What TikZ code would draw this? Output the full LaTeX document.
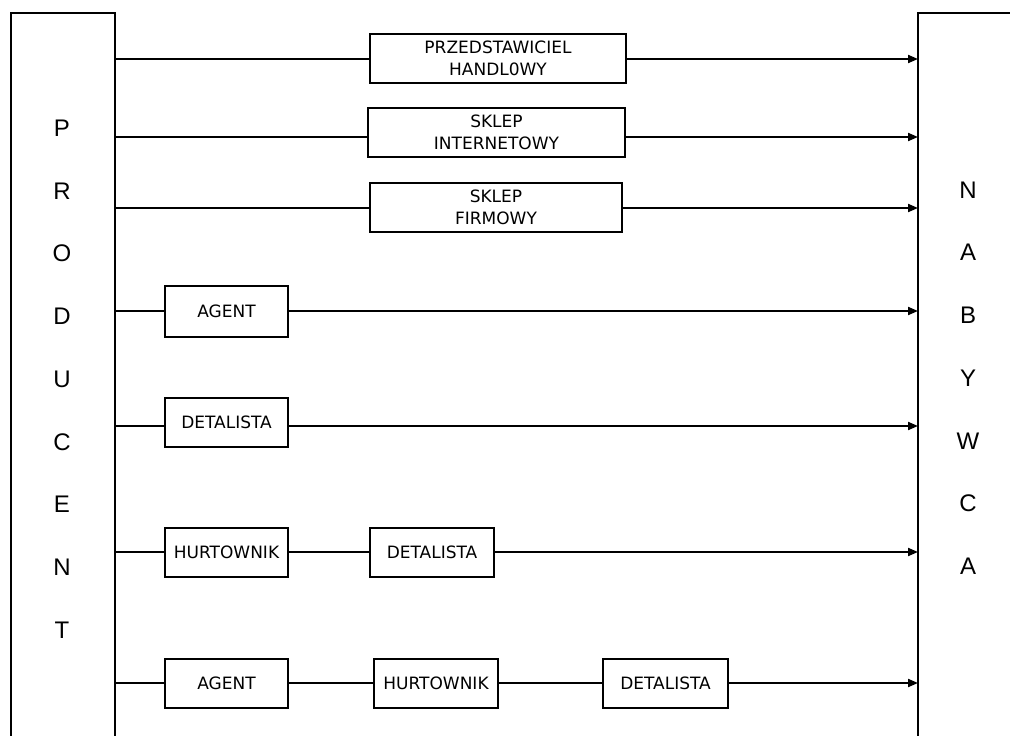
\documentclass[tikz,border=0pt]{standalone}
\usepackage{fontspec}
\setmainfont{DejaVu Sans}
\newfontfamily\bigf{Liberation Sans}
\usetikzlibrary{arrows.meta}
\begin{document}
\begin{tikzpicture}[x=1pt,y=-1pt,
  chan/.style={draw,line width=1.5pt,inner sep=0pt,minimum width=123pt,minimum height=49pt,
    font=\fontsize{17}{22}\selectfont,align=center},
  link/.style={line width=2pt},
  arr/.style={link,-{Triangle[length=10pt,width=8pt]}},
  panel/.style={line width=1.5pt},
  letter/.style={font=\bigf\fontsize{24}{24}\selectfont}]
\useasboundingbox (0,0) rectangle (1010,736);
\begin{scope}
\clip (0,0) rectangle (1010,736);
\draw[panel] (11,760) |- (115,13) -- (115,760);
\draw[panel] (918,760) |- (1020,13);
\end{scope}
% panel edge coordinates
\foreach \i/\y in {1/59,2/137,3/208,4/311,5/426,6/552,7/683}{
  \coordinate (p\i) at (115,\y);
  \coordinate (n\i) at (918,\y);
}
% boxes
\node[chan,minimum width=256pt] (b1) at (498,58.5) {PRZEDSTAWICIEL\\HANDL0WY};
\node[chan,minimum width=257pt] (b2) at (496.5,132.5) {SKLEP\\INTERNETOWY};
\node[chan,minimum width=252pt] (b3) at (496,207.5) {SKLEP\\FIRMOWY};
\node[chan,minimum height=51pt] (b4) at (226.5,311.5) {AGENT};
\node[chan] (b5) at (226.5,422.5) {DETALISTA};
\node[chan] (b6a) at (226.5,552.5) {HURTOWNIK};
\node[chan,minimum width=124pt] (b6b) at (432,552.5) {DETALISTA};
\node[chan] (b7a) at (226.5,683.5) {AGENT};
\node[chan,minimum width=124pt] (b7b) at (436,683.5) {HURTOWNIK};
\node[chan,minimum width=125pt] (b7c) at (665.5,683.5) {DETALISTA};
% connectors
\draw[link] (p1) -- (p1 -| b1.west);
\draw[arr] (b1.east |- p1) -- (n1);
\draw[link] (p2) -- (p2 -| b2.west);
\draw[arr] (b2.east |- p2) -- (n2);
\draw[link] (p3) -- (p3 -| b3.west);
\draw[arr] (b3.east |- p3) -- (n3);
\draw[link] (p4) -- (p4 -| b4.west);
\draw[arr] (b4.east |- p4) -- (n4);
\draw[link] (p5) -- (p5 -| b5.west);
\draw[arr] (b5.east |- p5) -- (n5);
\draw[link] (p6) -- (p6 -| b6a.west);
\draw[link] (b6a.east |- p6) -- (p6 -| b6b.west);
\draw[arr] (b6b.east |- p6) -- (n6);
\draw[link] (p7) -- (p7 -| b7a.west);
\draw[link] (b7a.east |- p7) -- (p7 -| b7b.west);
\draw[link] (b7b.east |- p7) -- (p7 -| b7c.west);
\draw[arr] (b7c.east |- p7) -- (n7);
% letters
\foreach \c [count=\i from 0] in {P,R,O,D,U,C,E,N,T}
  \node[letter] (l\i) at (62,128+62.75*\i) {\c};
\foreach \c [count=\i from 0] in {N,A,B,Y,W,C,A}
  \node[letter] (r\i) at (968,190+62.7*\i) {\c};
\end{tikzpicture}
\end{document}
